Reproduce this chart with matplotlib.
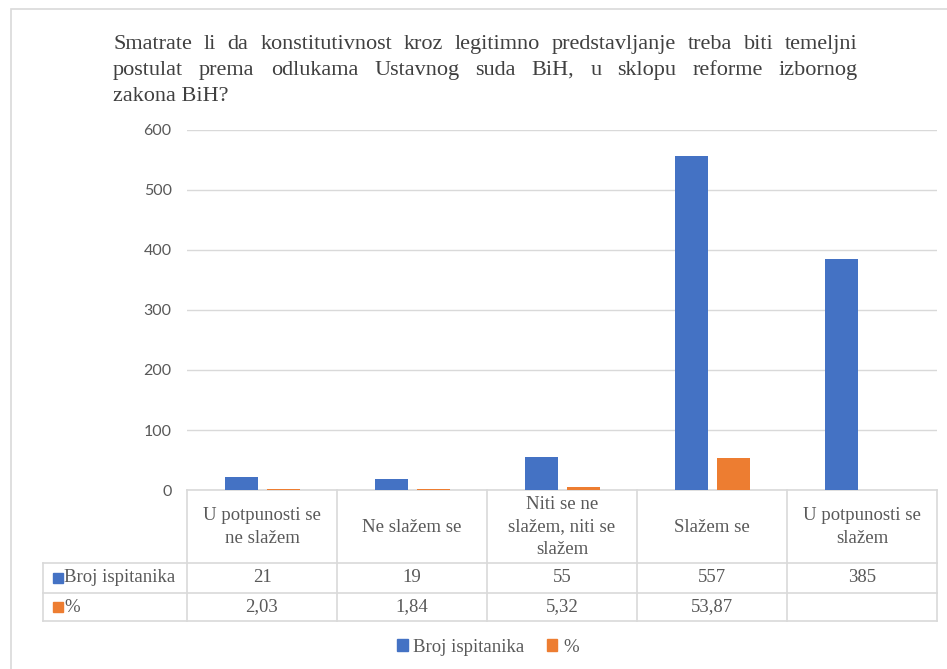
import numpy as np
import matplotlib.pyplot as plt
import matplotlib.transforms as mtransforms
from matplotlib.patches import Rectangle, Patch

# podaci
kategorije = ["U potpunosti se\nne slažem", "Ne slažem se",
              "Niti se ne\nslažem, niti se\nslažem", "Slažem se",
              "U potpunosti se\nslažem"]
broj_ispitanika = [21, 19, 55, 557, 385]
procenti = [2.03, 1.84, 5.32, 53.87, np.nan]
procenti_tekst = ["2,03", "1,84", "5,32", "53,87", ""]
serije = ["Broj ispitanika", "%"]
yticks = [0, 100, 200, 300, 400, 500, 600]

naslov = [
    "Smatrate li da konstitutivnost kroz legitimno predstavljanje treba biti temeljni",
    "postulat prema odlukama Ustavnog suda BiH, u sklopu reforme izbornog",
    "zakona BiH?",
]

PLAVA = "#4472C4"
NARANDZASTA = "#ED7D31"
SIVA = "#595959"
LINIJA = "#d9d9d9"
SERIF = "Liberation Serif"

W, H = 947, 669
fig = plt.figure(figsize=(W / 100, H / 100), dpi=100)

# okvir grafikona
fig.patches.append(Rectangle((11 / W, -0.1), 1.1, 1 - 9 / H + 0.1,
                             transform=fig.transFigure, fill=False,
                             edgecolor=LINIJA, linewidth=1.2))

ax = fig.add_axes([187 / W, 1 - 490 / H, 750 / W, 360 / H])
x = np.arange(len(kategorije))
sirina = 0.22
ax.bar(x - 0.14, broj_ispitanika, sirina, color=PLAVA, zorder=3)
ax.bar(x + 0.14, procenti, sirina, color=NARANDZASTA, zorder=3)

ax.set_xlim(-0.5, len(kategorije) - 0.5)
ax.set_ylim(0, 600)
ax.set_yticks(yticks)
ax.set_xticks([])
ax.grid(axis="y", color=LINIJA, linewidth=1, zorder=0)
for s in ax.spines.values():
    s.set_visible(False)
ax.tick_params(axis="y", length=0, pad=11, labelsize=11.5, labelcolor=SIVA)
for t in ax.get_yticklabels():
    t.set_fontfamily("Lato")

# tabela podataka ispod grafikona
tr = mtransforms.blended_transform_factory(ax.transData, ax.transAxes)


def ay(py):
    return (490 - py) / 360


lijevo = -1.46
desno = len(kategorije) - 0.5
redovi = [490, 563, 593, 621]
kw_lin = dict(color=LINIJA, linewidth=1.2, transform=tr, clip_on=False)
ax.plot([-0.5, desno], [ay(490)] * 2, **kw_lin)
for py in redovi[1:]:
    ax.plot([lijevo, desno], [ay(py)] * 2, **kw_lin)
for xb in np.arange(-0.5, len(kategorije), 1.0):
    ax.plot([xb, xb], [ay(490), ay(621)], **kw_lin)
ax.plot([lijevo, lijevo], [ay(563), ay(621)], **kw_lin)

kw_txt = dict(transform=tr, ha="center", va="center", fontsize=13.5,
              family=SERIF, color=SIVA, clip_on=False)
for i, k in enumerate(kategorije):
    ax.text(i, ay(527), k, linespacing=1.45, **kw_txt)
    ax.text(i, ay(578), str(broj_ispitanika[i]), **kw_txt)
    ax.text(i, ay(607), procenti_tekst[i], **kw_txt)

for py, ime, boja in [(578, serije[0], PLAVA), (607, serije[1], NARANDZASTA)]:
    ax.plot([lijevo + 0.1], [ay(py)], marker="s", markersize=7.5, color=boja,
            linestyle="none", transform=tr, clip_on=False)
    ax.text(lijevo + 0.14, ay(py), ime, transform=tr, ha="left", va="center",
            fontsize=13.5, family=SERIF, color=SIVA, clip_on=False)

# legenda
ruke = [Patch(color=PLAVA), Patch(color=NARANDZASTA)]
fig.legend(ruke, serije, loc="center", bbox_to_anchor=(488 / W, 1 - 647 / H),
           ncol=2, frameon=False, handlelength=0.55, handleheight=0.55,
           handletextpad=0.3, columnspacing=1.2,
           prop=dict(family=SERIF, size=13.5), labelcolor=SIVA)

# naslov, poravnat na obje strane
r = fig.canvas.get_renderer()
x0, x1 = 113, 858
for n, linija in enumerate(naslov):
    y = 1 - (49 + 26 * n) / H
    kw_n = dict(fontsize=16, family=SERIF, color="#404040", va="baseline")
    if n == len(naslov) - 1:
        fig.text(x0 / W, y, linija, **kw_n)
        continue
    rijeci = linija.split(" ")
    tekstovi = [fig.text(0, y, w, **kw_n) for w in rijeci]
    sirine = [t.get_window_extent(r).width for t in tekstovi]
    razmak = (x1 - x0 - sum(sirine)) / (len(rijeci) - 1)
    px = x0
    for t, s in zip(tekstovi, sirine):
        t.set_x(px / W)
        px += s + razmak

fig.savefig("out.png", dpi=100)
